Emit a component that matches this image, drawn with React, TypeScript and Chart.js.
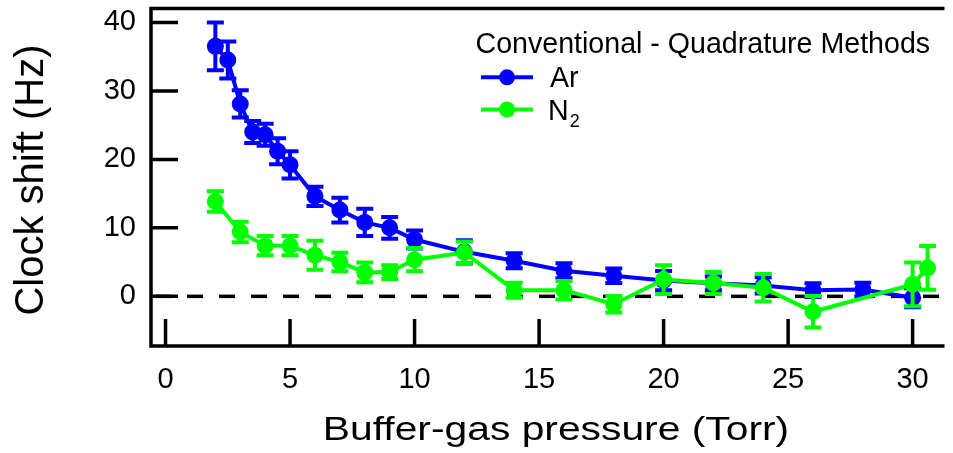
import React, { useEffect, useRef } from "react";
import { Chart, registerables } from "chart.js";

Chart.register(...registerables);

const FONT = '"Liberation Sans", Arial, Helvetica, sans-serif';

// ---- data ----
const arPressure = [2, 2.5, 3, 3.5, 4, 4.5, 5, 6, 7, 8, 9, 10, 12, 14, 16, 18, 20, 22, 24, 26, 28, 30];
const arShift = [36.5, 34.5, 28.1, 24.0, 23.6, 21.2, 19.2, 14.6, 12.6, 10.8, 10.0, 8.3, 6.5, 5.2, 3.75, 3.0, 2.3, 1.9, 1.6, 0.9, 1.0, -0.2];
const arError = [3.5, 2.7, 2.0, 1.6, 1.6, 1.9, 2.0, 1.4, 1.8, 2.0, 1.6, 1.3, 1.7, 1.1, 1.1, 1.05, 1.4, 1.0, 1.2, 1.0, 1.0, 1.4];

const n2Pressure = [2, 3, 4, 5, 6, 7, 8, 9, 10, 12, 14, 16, 18, 20, 22, 24, 26, 30, 30.6];
const n2Shift = [13.85, 9.4, 7.4, 7.4, 6.0, 5.0, 3.5, 3.55, 5.35, 6.4, 0.9, 0.9, -1.15, 2.45, 1.95, 1.25, -2.25, 1.75, 4.15];
const n2Error = [1.5, 1.5, 1.4, 1.4, 2.1, 1.35, 1.45, 1.0, 1.7, 1.6, 1.1, 1.35, 1.2, 2.1, 1.6, 2.0, 2.3, 3.2, 3.2];

const xTickValues = [0, 5, 10, 15, 20, 25, 30];
const yTickValues = [0, 10, 20, 30, 40];

const legendTitle = "Conventional - Quadrature Methods";
const arLabel = "Ar";
const n2Label = "N";
const n2Sub = "2";
const xTitle = "Buffer-gas pressure (Torr)";
const yTitle = "Clock shift (Hz)";

const BLUE = "#0000ff";
const GREEN = "#00ff00";

const errorBarPlugin = {
  id: "errorBars",
  afterDatasetDraw(chart: any, args: any) {
    const ds: any = chart.data.datasets[args.index];
    const errs: number[] = ds.errors;
    if (!errs) return;
    const meta = args.meta;
    const ys = chart.scales.y;
    const ctx = chart.ctx;
    ctx.save();
    ctx.strokeStyle = ds.borderColor;
    ctx.lineWidth = 4;
    ctx.lineCap = "butt";
    meta.data.forEach((el: any, i: number) => {
      const v = ds.data[i].y;
      const x = el.x;
      const yTop = ys.getPixelForValue(v + errs[i]);
      const yBot = ys.getPixelForValue(v - errs[i]);
      ctx.beginPath();
      ctx.moveTo(x, yTop);
      ctx.lineTo(x, yBot);
      ctx.moveTo(x - 8.5, yTop);
      ctx.lineTo(x + 8.5, yTop);
      ctx.moveTo(x - 8.5, yBot);
      ctx.lineTo(x + 8.5, yBot);
      ctx.stroke();
    });
    ctx.restore();
  },
};

const framePlugin = {
  id: "frame",
  beforeDatasetsDraw(chart: any) {
    const { ctx, chartArea } = chart;
    const y0 = chart.scales.y.getPixelForValue(0);
    ctx.save();
    ctx.strokeStyle = "#000";
    ctx.lineWidth = 3.5;
    ctx.setLineDash([16, 16]);
    ctx.lineDashOffset = 28;
    ctx.beginPath();
    ctx.moveTo(chartArea.left, y0);
    ctx.lineTo(chartArea.right, y0);
    ctx.stroke();
    ctx.restore();
  },
  afterDatasetsDraw(chart: any) {
    const { ctx, chartArea } = chart;
    const { left, right, top, bottom } = chartArea;
    ctx.save();
    ctx.strokeStyle = "#000";
    ctx.lineWidth = 3.5;
    ctx.lineCap = "butt";
    ctx.beginPath();
    ctx.moveTo(left - 1.75, top);
    ctx.lineTo(right, top);
    ctx.moveTo(left, top);
    ctx.lineTo(left, bottom);
    ctx.moveTo(left - 1.75, bottom);
    ctx.lineTo(right, bottom);
    yTickValues.forEach((v) => {
      const p = chart.scales.y.getPixelForValue(v);
      ctx.moveTo(left, p);
      ctx.lineTo(left + 27, p);
    });
    xTickValues.forEach((v) => {
      const p = chart.scales.x.getPixelForValue(v);
      ctx.moveTo(p, bottom);
      ctx.lineTo(p, bottom - 27);
    });
    ctx.stroke();
    ctx.restore();
  },
  afterDraw(chart: any) {
    const ctx = chart.ctx;
    ctx.save();
    ctx.fillStyle = "#000";
    ctx.textBaseline = "alphabetic";

    // axis titles
    ctx.save();
    ctx.font = `40px ${FONT}`;
    ctx.textAlign = "center";
    ctx.translate(42.5, 180);
    ctx.rotate(-Math.PI / 2);
    ctx.fillText(yTitle, 0, 0);
    ctx.restore();

    ctx.save();
    ctx.font = `34px ${FONT}`;
    ctx.textAlign = "center";
    ctx.translate(556, 439.5);
    ctx.scale(1.2, 1);
    ctx.fillText(xTitle, 0, 0);
    ctx.restore();

    // legend
    ctx.textAlign = "left";
    ctx.font = `28.6px ${FONT}`;
    ctx.fillText(legendTitle, 475.5, 53);

    const entry = (y: number, color: string) => {
      ctx.strokeStyle = color;
      ctx.fillStyle = color;
      ctx.lineWidth = 4;
      ctx.beginPath();
      ctx.moveTo(481, y);
      ctx.lineTo(533, y);
      ctx.stroke();
      ctx.beginPath();
      ctx.arc(507, y, 8, 0, Math.PI * 2);
      ctx.fill();
    };
    entry(77.3, BLUE);
    entry(109.5, GREEN);

    ctx.fillStyle = "#000";
    ctx.font = `28.6px ${FONT}`;
    ctx.fillText(arLabel, 550, 86.7);
    ctx.fillText(n2Label, 548, 120);
    const nW = ctx.measureText(n2Label).width;
    ctx.font = `18px ${FONT}`;
    ctx.fillText(n2Sub, 548 + nW + 1, 127);
    ctx.restore();
  },
};

export default function App() {
  const ref = useRef<HTMLCanvasElement | null>(null);

  useEffect(() => {
    document.body.style.margin = "0";
    const canvas = ref.current;
    if (!canvas) return;
    const chart = new Chart(canvas, {
      type: "scatter",
      data: {
        datasets: [
          {
            label: "Ar",
            data: arPressure.map((x, i) => ({ x, y: arShift[i] })),
            errors: arError,
            borderColor: BLUE,
            backgroundColor: BLUE,
            pointBackgroundColor: BLUE,
            pointBorderWidth: 0,
            pointRadius: 8.5,
            borderWidth: 4,
            showLine: true,
            order: 1,
            clip: false,
          } as any,
          {
            label: "N2",
            data: n2Pressure.map((x, i) => ({ x, y: n2Shift[i] })),
            errors: n2Error,
            borderColor: GREEN,
            backgroundColor: GREEN,
            pointBackgroundColor: GREEN,
            pointBorderWidth: 0,
            pointRadius: 8.5,
            borderWidth: 4,
            showLine: true,
            order: 0,
            clip: false,
          } as any,
        ],
      },
      options: {
        animation: false,
        responsive: false,
        devicePixelRatio: 1,
        layout: { padding: { top: 6, left: 0, right: 0, bottom: 0 } },
        plugins: {
          legend: { display: false },
          tooltip: { enabled: false },
          title: { display: false },
        },
        scales: {
          x: {
            type: "linear",
            position: "bottom",
            min: -0.584,
            max: 31.28,
            afterBuildTicks: (s: any) => {
              s.ticks = xTickValues.map((v) => ({ value: v }));
            },
            afterFit: (s: any) => {
              s.height = 107;
              s.paddingLeft = 0;
              s.paddingRight = 0;
              s.paddingTop = 0;
              s.paddingBottom = 0;
            },
            grid: { display: false, drawTicks: false },
            border: { display: false },
            ticks: {
              color: "#000",
              font: { family: FONT, size: 29 },
              padding: 17,
              maxRotation: 0,
              autoSkip: false,
            },
          },
          y: {
            type: "linear",
            position: "left",
            min: -7.25,
            max: 42.03,
            afterBuildTicks: (s: any) => {
              s.ticks = yTickValues.map((v) => ({ value: v }));
            },
            afterFit: (s: any) => {
              s.width = 151;
              s.paddingLeft = 0;
              s.paddingRight = 0;
              s.paddingTop = 0;
              s.paddingBottom = 0;
            },
            grid: { display: false, drawTicks: false },
            border: { display: false },
            ticks: {
              color: "#000",
              font: { family: FONT, size: 29 },
              padding: 15,
              autoSkip: false,
            },
          },
        },
      },
      plugins: [errorBarPlugin, framePlugin],
    } as any);
    return () => chart.destroy();
  }, []);

  return (
    <div style={{ width: 953, height: 453 }}>
      <canvas ref={ref} width={953} height={453} style={{ display: "block", width: 953, height: 453 }} />
    </div>
  );
}
